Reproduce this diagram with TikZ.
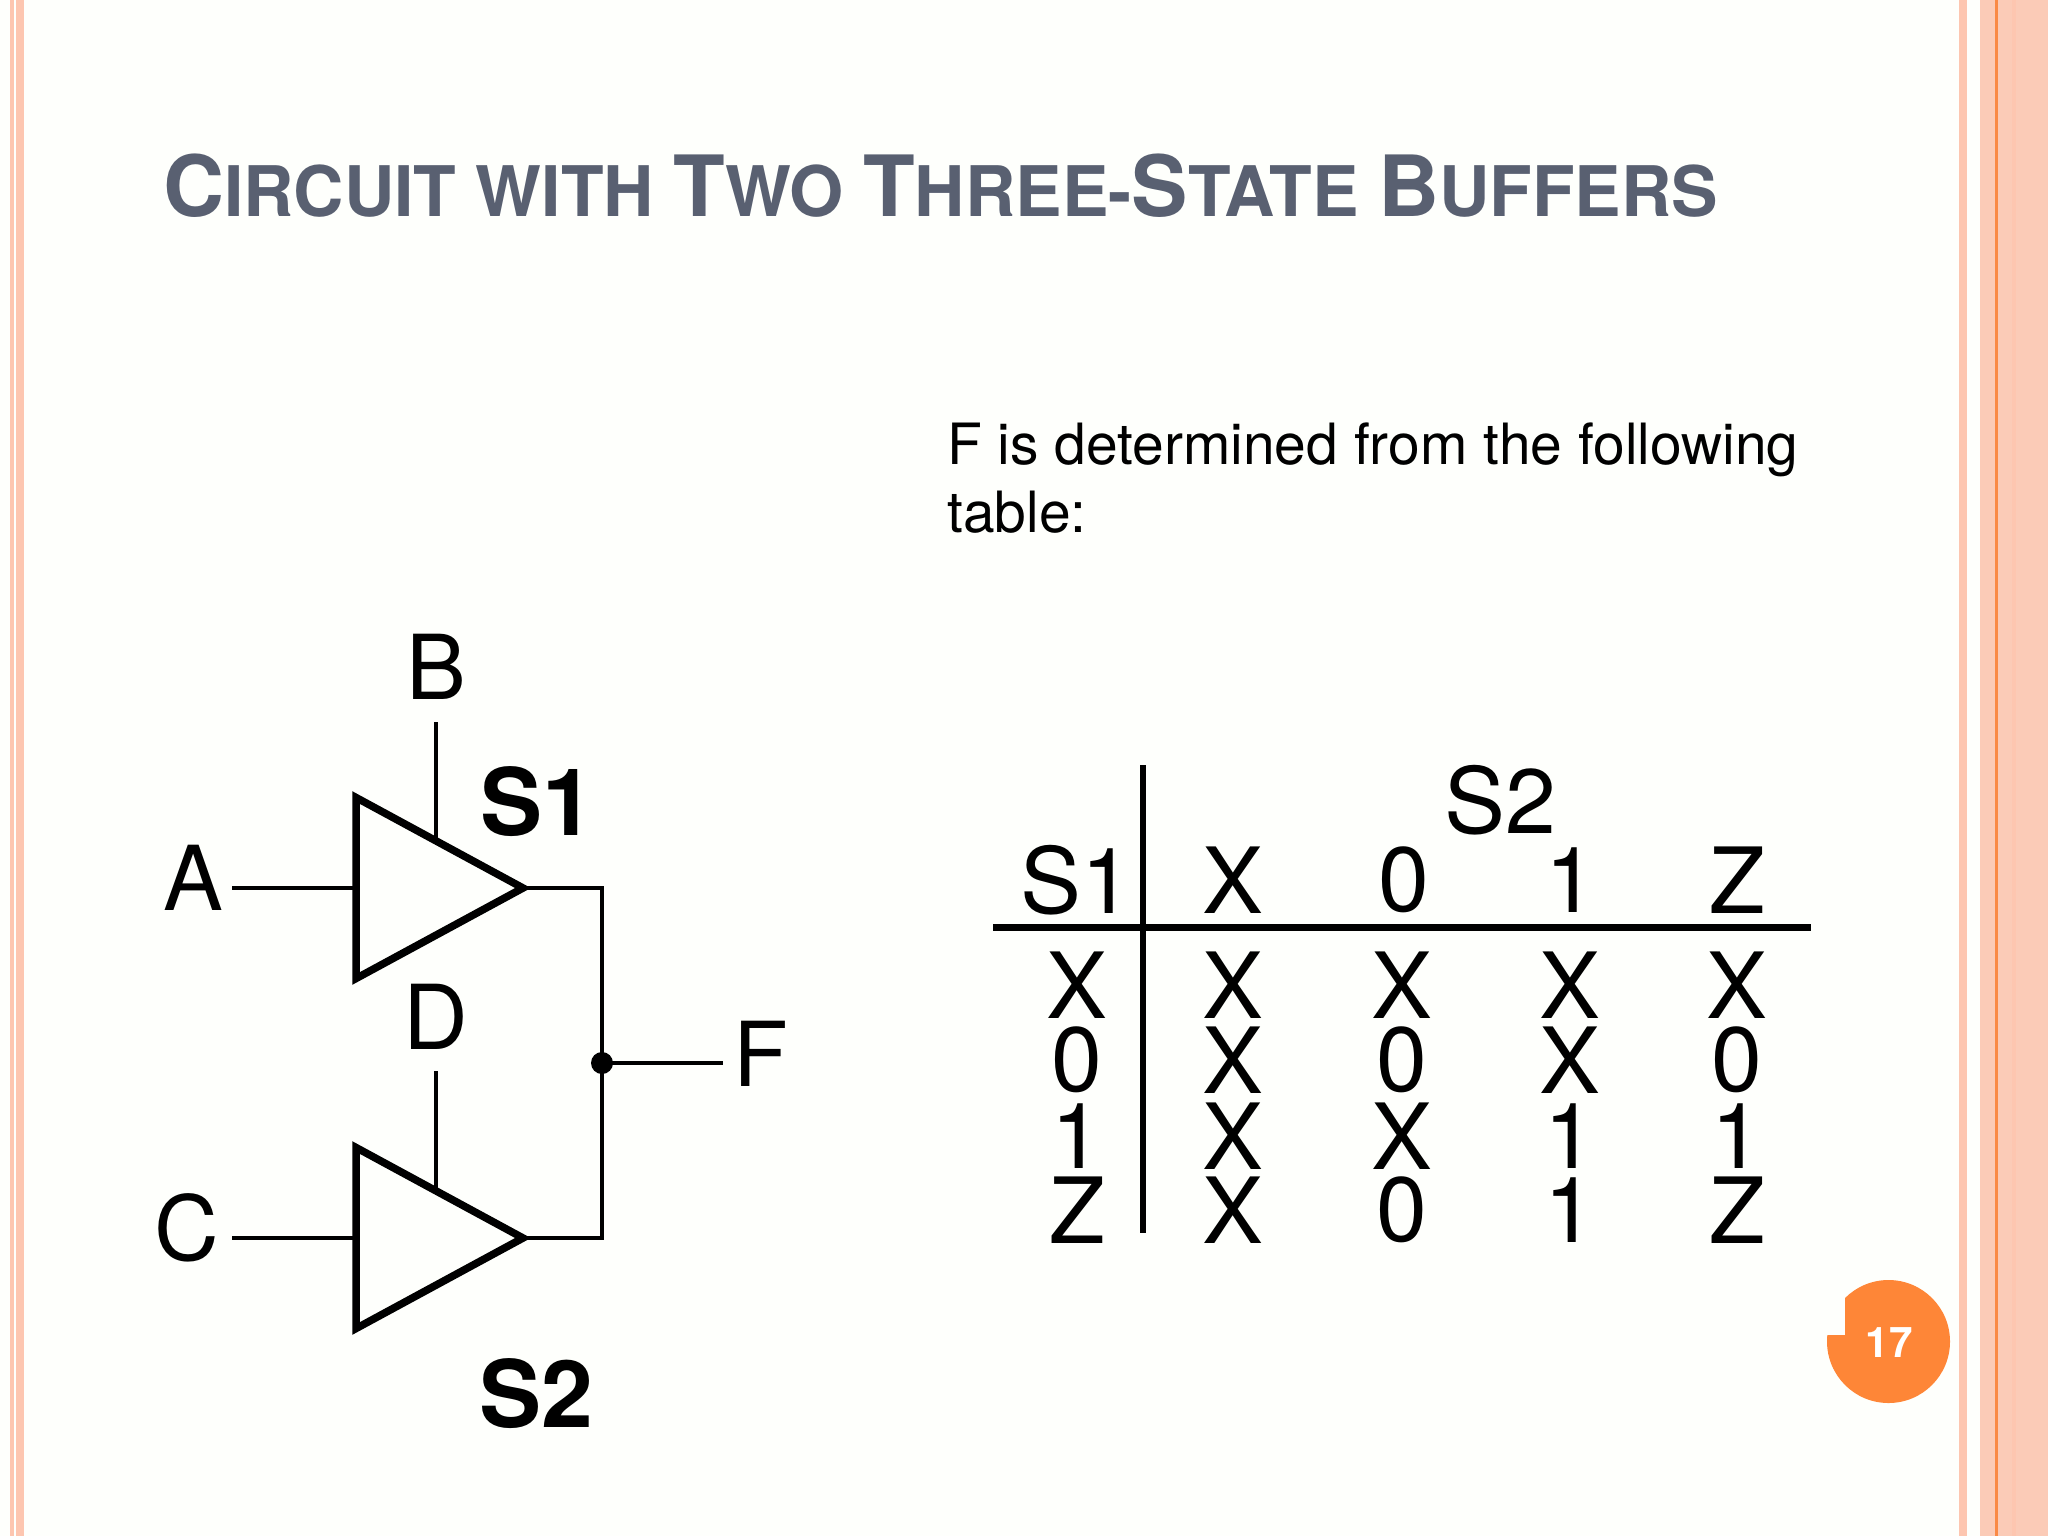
\documentclass[tikz,border=0pt]{standalone}
\usepackage{fontspec}
\setmainfont{TeX Gyre Heros}
\usetikzlibrary{shapes.geometric}
\definecolor{barpale}{HTML}{FBCBB7}
\definecolor{barmid}{HTML}{FDC6B0}
\definecolor{barline}{HTML}{FA8A45}
\definecolor{badgeorange}{HTML}{FE8637}
\definecolor{titlegray}{HTML}{596071}
\definecolor{slidebg}{HTML}{FEFFFC}
\newcommand{\capfirst}[1]{{\fontsize{48.1}{50}\selectfont #1}}
\tikzset{
  sig/.style={inner sep=0pt,font=\fontsize{51}{56}\selectfont},
  sigbold/.style={inner sep=0pt,font=\fontsize{53}{60}\selectfont\bfseries},
  cell/.style={inner sep=0pt,font=\fontsize{52}{58}\selectfont},
  wire/.style={line width=2.5pt},
  buffer/.style={draw,isosceles triangle,isosceles triangle stretches,shape border rotate=0,
    line width=4.3pt,inner sep=0pt,outer sep=0pt,minimum width=3.62cm,minimum height=3.34cm,anchor=apex},
}
\begin{document}
\begin{tikzpicture}[x=0.02cm,y=-0.02cm]
\useasboundingbox (0,0) rectangle (2048,1536);
\fill[slidebg] (0,0) rectangle (2048,1536);
% side bars
\fill[barmid] (10,0) rectangle (14,1536);
\fill[barmid] (16,0) rectangle (24,1536);
\fill[barmid] (1959,0) rectangle (1967,1536);
\fill[barpale] (1980,0) rectangle (2048,1536);
\fill[barmid] (2012,0) rectangle (2016,1536);
\fill[barline] (1995,0) rectangle (1998,1536);
% title
\node[anchor=base west,inner sep=0pt,text=titlegray,font=\fontsize{39.7}{44}\selectfont\bfseries] (title) at (163,216)
  {\capfirst{C}IRCUIT WITH \capfirst{T}WO \capfirst{T}HREE-\capfirst{S}TATE \capfirst{B}UFFERS};
\node[anchor=base west,inner sep=0pt,align=left,font=\fontsize{32.4}{38.7}\selectfont] (intro) at (947,532)
  {F is determined from the following\\table:};
% circuit
\node[buffer] (top) at (523,888) {};
\node[buffer] (bot) at (523,1238) {};
\node[circle,fill,inner sep=0pt,minimum size=0.44cm] (join) at (602,1063) {};
\node[sig] (a) at (193,878) {A};
\node[sig] (b) at (436,667) {B};
\node[sig] (c) at (187,1228) {C};
\node[sig] (d) at (436,1017) {D};
\node[sig] (f) at (761,1054) {F};
\node[sigbold] (s1) at (537,802) {S1};
\node[sigbold] (s2) at (536,1394) {S2};
\coordinate (ain) at (232,888);
\coordinate (cin) at (232,1238);
\coordinate (bin) at (436,722);
\coordinate (din) at (436,1071);
\coordinate (fout) at (723,1063);
\draw[wire] (ain) -- (top.lower side);
\draw[wire] (cin) -- (bot.lower side);
\draw[wire] (bin) -- (bin |- top.left side);
\draw[wire] (din) -- (din |- bot.left side);
\draw[wire] (top.apex) -| (join.center);
\draw[wire] (bot.apex) -| (join.center);
\draw[wire] (join.center) -- (fout);
% table
\draw[line width=3.4pt] (1143,765) -- (1143,1233);
\draw[line width=4pt] (993,927) -- (1811,927);
\node[cell] (hs2) at (1500,800) {S2};
\node[cell] (hs1) at (1076,880) {S1};
\foreach \n/\x/\t in {x/1233/X,o/1404/0,i/1571/1,z/1737/Z} {
  \node[cell] (h\n) at (\x,880) {\t};
}
\foreach \n/\y/\a/\b/\c/\d/\e in {1/985/X/X/X/X/X,2/1060/0/X/0/X/0,3/1136/1/X/X/1/1,4/1210/Z/X/0/1/Z} {
  \node[cell] (r\n a) at (1077,\y) {\a};
  \node[cell] (r\n b) at (1233,\y) {\b};
  \node[cell] (r\n c) at (1402,\y) {\c};
  \node[cell] (r\n d) at (1570,\y) {\d};
  \node[cell] (r\n e) at (1737,\y) {\e};
}
% page number
\fill[badgeorange] (1888.5,1341.5) circle (61.5);
\fill[slidebg] (1820,1270) rectangle (1845,1335);
\node[inner sep=0pt,text=white,font=\fontsize{24}{28}\selectfont\bfseries] (page) at (1889,1343) {17};
\end{tikzpicture}
\end{document}
